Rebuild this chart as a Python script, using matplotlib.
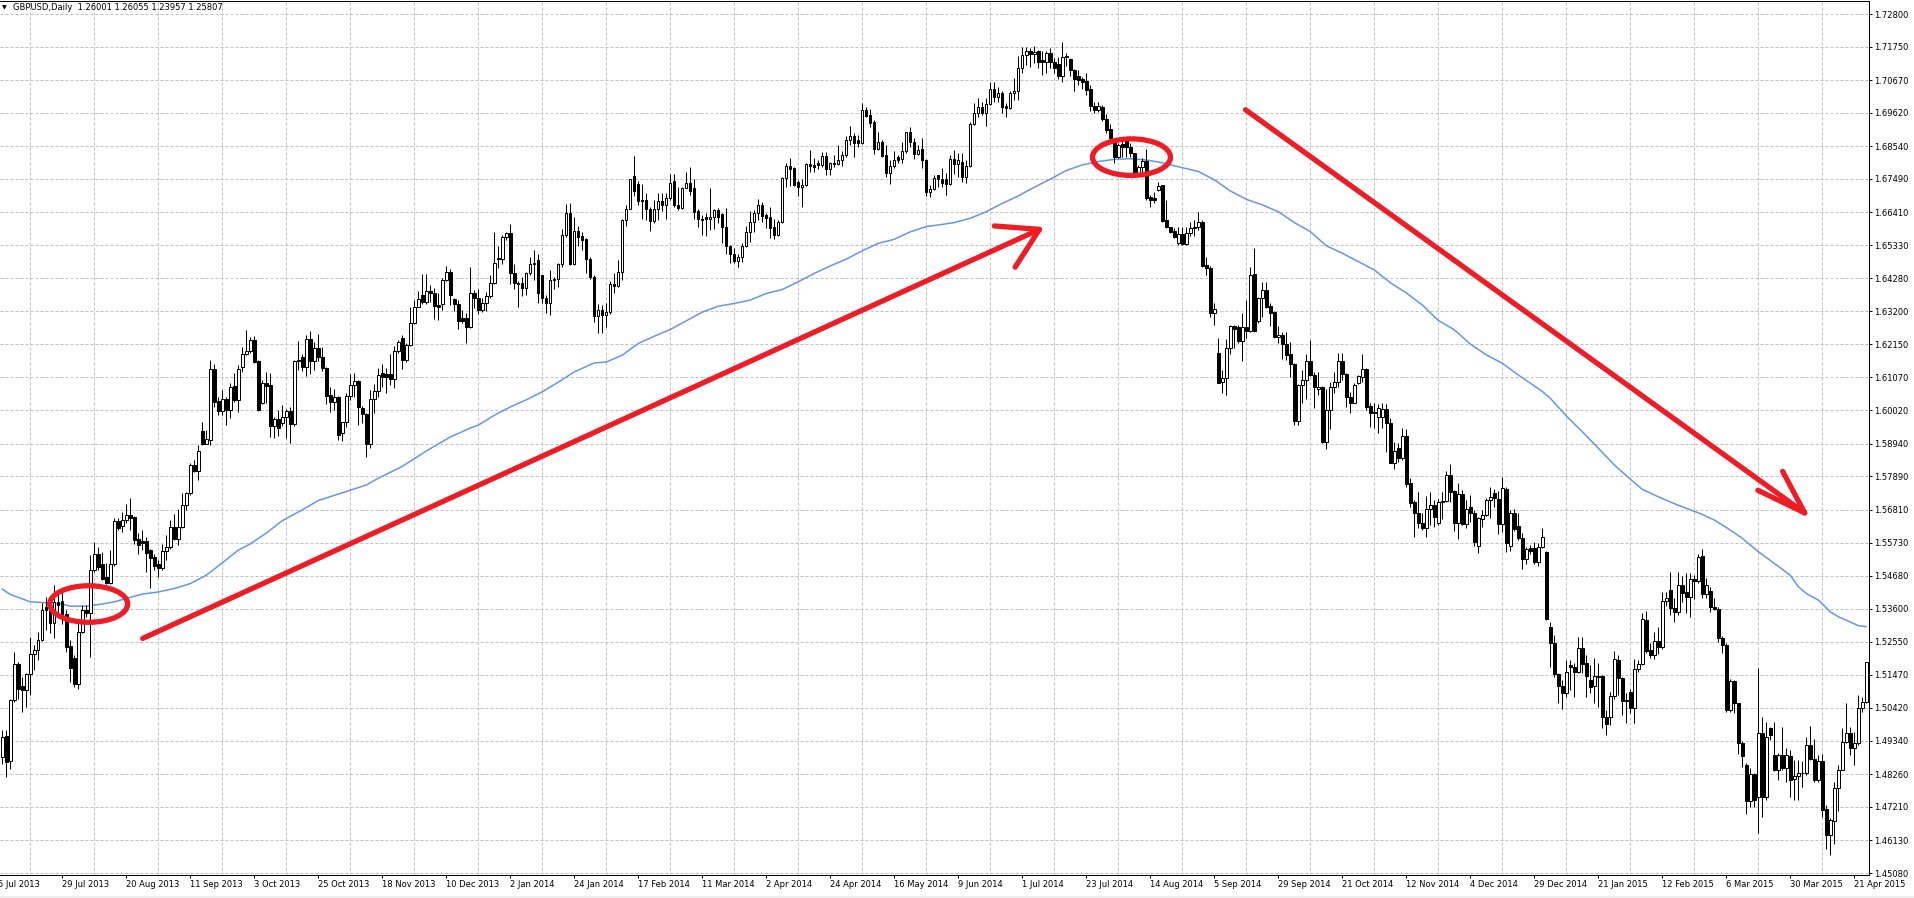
import numpy as np
import matplotlib
matplotlib.use("Agg")
import matplotlib.pyplot as plt
from matplotlib.patches import Ellipse, Rectangle

# GBPUSD daily candles, prices in pips (1.xxxx * 10000), one entry per bar
open_pips = [
    14881, 14949, 14869, 15066, 15184, 15111, 15100, 15149, 15214, 15229,
    15261, 15367, 15380, 15315, 15383, 15386, 15343, 15240, 15203, 15119,
    15286, 15356, 15348, 15487, 15536, 15505, 15463, 15444, 15504, 15643,
    15629, 15647, 15663, 15657, 15585, 15580, 15580, 15550, 15528, 15504,
    15491, 15547, 15561, 15623, 15587, 15625, 15695, 15733, 15824, 15806,
    15934, 15894, 15905, 16134, 16031, 16000, 16039, 16002, 16079, 16034,
    16142, 16183, 16193, 16228, 16160, 16024, 16090, 16083, 15952, 15973,
    15960, 15979, 16000, 15956, 16160, 16174, 16142, 16230, 16161, 16201,
    16174, 16137, 16050, 16027, 16043, 15927, 15962, 16047, 16082, 16096,
    16008, 15990, 15894, 16039, 16063, 16120, 16118, 16118, 16101, 16193,
    16236, 16163, 16212, 16284, 16336, 16373, 16350, 16386, 16379, 16340,
    16345, 16422, 16449, 16359, 16344, 16298, 16300, 16271, 16380, 16362,
    16326, 16346, 16369, 16412, 16493, 16488, 16561, 16572, 16443, 16413,
    16413, 16397, 16443, 16472, 16486, 16437, 16365, 16348, 16421, 16426,
    16472, 16566, 16638, 16473, 16579, 16563, 16553, 16491, 16432, 16306,
    16324, 16308, 16317, 16408, 16403, 16446, 16615, 16652, 16757, 16730,
    16679, 16679, 16652, 16613, 16652, 16677, 16663, 16685, 16741, 16663,
    16655, 16720, 16736, 16720, 16644, 16620, 16626, 16617, 16626, 16647,
    16633, 16594, 16532, 16505, 16484, 16495, 16531, 16575, 16608, 16639,
    16663, 16631, 16626, 16594, 16567, 16608, 16750, 16789, 16784, 16739,
    16723, 16728, 16796, 16792, 16798, 16793, 16822, 16779, 16800, 16796,
    16809, 16825, 16873, 16886, 16873, 16865, 16970, 16954, 16930, 16844,
    16868, 16825, 16766, 16789, 16820, 16811, 16838, 16898, 16868, 16827,
    16843, 16809, 16706, 16715, 16760, 16746, 16746, 16732, 16811, 16796,
    16804, 16753, 16790, 16925, 16962, 16979, 16960, 16989, 17037, 17011,
    17024, 16983, 16976, 17024, 17032, 17105, 17148, 17161, 17150, 17161,
    17130, 17126, 17153, 17126, 17119, 17080, 17140, 17134, 17100, 17080,
    17069, 17064, 17037, 16983, 16970, 16979, 16941, 16908, 16863, 16820,
    16861, 16872, 16850, 16831, 16768, 16785, 16807, 16688, 16685, 16712,
    16727, 16615, 16594, 16580, 16540, 16569, 16538, 16572, 16589, 16594,
    16608, 16470, 16460, 16316, 16185, 16093, 16104, 16201, 16273, 16271,
    16225, 16269, 16258, 16440, 16290, 16363, 16390, 16338, 16319, 16239,
    16244, 16214, 16183, 16150, 15968, 16083, 16099, 16161, 16115, 16069,
    16077, 15900, 16002, 16075, 16091, 16160, 16117, 16045, 16026, 16090,
    16110, 16134, 16015, 15996, 15979, 15979, 16004, 15959, 15832, 15880,
    15846, 15918, 15768, 15706, 15669, 15636, 15620, 15682, 15695, 15636,
    15706, 15709, 15792, 15740, 15639, 15731, 15634, 15688, 15671, 15562,
    15650, 15662, 15712, 15733, 15714, 15634, 15746, 15563, 15669, 15628,
    15588, 15520, 15558, 15558, 15510, 15559, 15545, 15301, 15249, 15149,
    15111, 15090, 15179, 15172, 15158, 15233, 15185, 15131, 15111, 15144,
    15144, 15013, 15012, 15079, 15195, 15136, 15066, 15093, 15039, 15165,
    15182, 15326, 15228, 15211, 15258, 15236, 15386, 15421, 15362, 15351,
    15437, 15415, 15400, 15456, 15450, 15531, 15408, 15418, 15365, 15359,
    15265, 15244, 15034, 15129, 15055, 14929, 14856, 14741, 14827, 14754,
    14959, 14754, 14975, 14889, 14842, 14889, 14846, 14885, 14810, 14821,
    14830, 14832, 14921, 14875, 14808, 14869, 14713, 14630, 14677, 14781,
    14842, 14932, 14961, 14910, 14926, 15042, 15059,
]
high_pips = [
    14969, 14969, 15071, 15222, 15189, 15141, 15152, 15270, 15243, 15286,
    15378, 15399, 15399, 15437, 15415, 15415, 15356, 15259, 15211, 15324,
    15372, 15372, 15534, 15575, 15561, 15544, 15507, 15550, 15652, 15654,
    15674, 15700, 15717, 15660, 15604, 15614, 15593, 15555, 15537, 15518,
    15571, 15598, 15647, 15668, 15682, 15733, 15738, 15830, 15840, 15889,
    15962, 15937, 16163, 16149, 16045, 16066, 16045, 16088, 16120, 16147,
    16207, 16260, 16239, 16241, 16165, 16099, 16126, 16123, 15981, 16002,
    16018, 16004, 16013, 16165, 16225, 16182, 16244, 16257, 16223, 16246,
    16207, 16142, 16077, 16069, 16047, 15964, 16058, 16118, 16123, 16099,
    16016, 15991, 16067, 16085, 16137, 16151, 16137, 16183, 16209, 16228,
    16244, 16219, 16333, 16357, 16387, 16441, 16441, 16406, 16395, 16381,
    16427, 16467, 16456, 16363, 16357, 16325, 16314, 16465, 16389, 16394,
    16362, 16383, 16437, 16575, 16531, 16566, 16577, 16601, 16473, 16419,
    16432, 16448, 16496, 16518, 16507, 16439, 16373, 16453, 16432, 16475,
    16585, 16666, 16669, 16625, 16595, 16577, 16556, 16496, 16439, 16343,
    16341, 16346, 16419, 16443, 16486, 16618, 16663, 16749, 16821, 16740,
    16733, 16701, 16658, 16679, 16701, 16703, 16701, 16765, 16765, 16722,
    16722, 16771, 16787, 16749, 16652, 16631, 16637, 16717, 16650, 16653,
    16639, 16653, 16535, 16524, 16507, 16540, 16596, 16644, 16647, 16682,
    16674, 16639, 16658, 16620, 16615, 16755, 16798, 16816, 16787, 16744,
    16746, 16798, 16841, 16814, 16809, 16836, 16836, 16803, 16825, 16857,
    16838, 16886, 16919, 16895, 16890, 16994, 16981, 16972, 16938, 16900,
    16873, 16857, 16809, 16838, 16825, 16868, 16900, 16916, 16879, 16857,
    16879, 16811, 16728, 16762, 16762, 16782, 16766, 16825, 16841, 16831,
    16831, 16809, 16933, 16992, 17008, 16997, 17008, 17062, 17062, 17046,
    17032, 16992, 17032, 17073, 17145, 17175, 17172, 17170, 17177, 17164,
    17159, 17159, 17170, 17137, 17140, 17189, 17153, 17137, 17102, 17100,
    17078, 17089, 17051, 16997, 16997, 16987, 16956, 16925, 16879, 16865,
    16884, 16884, 16863, 16833, 16793, 16814, 16843, 16696, 16704, 16739,
    16728, 16680, 16594, 16588, 16594, 16594, 16594, 16610, 16615, 16642,
    16615, 16495, 16467, 16346, 16233, 16131, 16230, 16276, 16278, 16275,
    16314, 16357, 16465, 16524, 16368, 16414, 16414, 16346, 16320, 16273,
    16255, 16255, 16223, 16153, 16086, 16131, 16183, 16228, 16126, 16126,
    16080, 16069, 16094, 16126, 16185, 16185, 16120, 16061, 16088, 16115,
    16183, 16137, 16026, 16024, 16021, 16024, 16021, 15975, 15900, 15895,
    15943, 15940, 15782, 15712, 15739, 15669, 15723, 15739, 15712, 15714,
    15739, 15806, 15828, 15744, 15766, 15744, 15712, 15728, 15680, 15656,
    15680, 15717, 15755, 15746, 15742, 15787, 15755, 15680, 15682, 15669,
    15604, 15561, 15567, 15577, 15574, 15620, 15547, 15319, 15276, 15154,
    15131, 15195, 15195, 15185, 15271, 15271, 15211, 15179, 15201, 15185,
    15147, 15034, 15093, 15225, 15211, 15139, 15088, 15101, 15197, 15195,
    15346, 15354, 15249, 15287, 15301, 15416, 15416, 15480, 15394, 15478,
    15466, 15475, 15475, 15470, 15539, 15552, 15459, 15432, 15397, 15365,
    15273, 15249, 15133, 15131, 15058, 14935, 14862, 14846, 14830, 15168,
    15010, 14996, 14980, 14996, 14894, 14980, 14910, 14905, 14872, 14872,
    14870, 14948, 14982, 14942, 14889, 14891, 14727, 14684, 14803, 14856,
    14975, 15055, 14980, 14964, 15082, 15077, 15190,
]
low_pips = [
    14861, 14818, 14845, 15060, 15071, 15028, 15044, 15082, 15162, 15195,
    15258, 15292, 15281, 15265, 15335, 15313, 15222, 15125, 15109, 15103,
    15281, 15335, 15206, 15480, 15485, 15455, 15442, 15440, 15500, 15614,
    15609, 15636, 15614, 15571, 15537, 15550, 15480, 15428, 15485, 15464,
    15485, 15518, 15555, 15582, 15566, 15620, 15681, 15728, 15803, 15776,
    15890, 15891, 15889, 16012, 15986, 15986, 15953, 15975, 16029, 15996,
    16126, 16180, 16185, 16153, 16000, 16021, 16026, 15916, 15913, 15918,
    15950, 15911, 15895, 15950, 16131, 16129, 16112, 16118, 16131, 16161,
    16129, 16021, 15997, 16002, 15905, 15903, 15948, 16034, 16045, 15954,
    15959, 15851, 15878, 15991, 16045, 16077, 16058, 16083, 16072, 16185,
    16133, 16158, 16208, 16280, 16334, 16344, 16344, 16352, 16295, 16293,
    16325, 16418, 16341, 16320, 16262, 16282, 16217, 16268, 16330, 16313,
    16319, 16322, 16365, 16410, 16459, 16473, 16552, 16408, 16391, 16335,
    16369, 16373, 16437, 16421, 16346, 16346, 16316, 16308, 16394, 16400,
    16462, 16561, 16470, 16470, 16531, 16518, 16443, 16426, 16287, 16251,
    16251, 16270, 16313, 16380, 16400, 16421, 16595, 16650, 16692, 16663,
    16620, 16615, 16580, 16605, 16615, 16645, 16618, 16679, 16658, 16647,
    16652, 16717, 16695, 16620, 16593, 16566, 16563, 16583, 16585, 16606,
    16540, 16505, 16477, 16475, 16464, 16481, 16528, 16545, 16577, 16615,
    16610, 16588, 16556, 16553, 16563, 16605, 16723, 16725, 16725, 16693,
    16658, 16725, 16771, 16771, 16779, 16787, 16760, 16760, 16787, 16793,
    16789, 16817, 16857, 16820, 16852, 16862, 16949, 16916, 16828, 16840,
    16817, 16753, 16731, 16782, 16798, 16800, 16830, 16852, 16811, 16825,
    16782, 16693, 16690, 16712, 16723, 16723, 16696, 16728, 16764, 16755,
    16739, 16736, 16787, 16922, 16949, 16954, 16917, 16986, 16997, 16997,
    16962, 16949, 16973, 17003, 17003, 17091, 17116, 17110, 17121, 17105,
    17083, 17089, 17105, 17089, 17069, 17059, 17112, 17080, 17033, 17051,
    17037, 17019, 16968, 16960, 16965, 16936, 16895, 16868, 16800, 16814,
    16820, 16820, 16820, 16757, 16766, 16761, 16680, 16658, 16671, 16710,
    16610, 16588, 16572, 16556, 16535, 16535, 16535, 16564, 16562, 16583,
    16465, 16438, 16303, 16276, 16088, 16056, 16051, 16183, 16201, 16217,
    16161, 16233, 16255, 16255, 16282, 16303, 16330, 16273, 16236, 16217,
    16166, 16164, 16110, 15954, 15954, 16026, 16037, 16112, 16007, 16051,
    15897, 15875, 15940, 16056, 16077, 16099, 16011, 15994, 16024, 16086,
    16094, 16002, 15948, 15943, 15927, 15943, 15868, 15830, 15811, 15835,
    15841, 15755, 15690, 15593, 15620, 15615, 15591, 15631, 15626, 15631,
    15649, 15705, 15706, 15613, 15585, 15631, 15620, 15642, 15563, 15542,
    15626, 15659, 15653, 15690, 15602, 15610, 15545, 15548, 15613, 15583,
    15488, 15505, 15537, 15505, 15499, 15556, 15325, 15174, 15142, 15055,
    15036, 15077, 15099, 15077, 15155, 15152, 15075, 15088, 15058, 15045,
    14975, 14953, 14986, 15068, 15082, 15018, 14991, 15023, 14991, 15158,
    15180, 15217, 15201, 15197, 15215, 15230, 15370, 15340, 15319, 15340,
    15383, 15346, 15333, 15391, 15445, 15394, 15394, 15351, 15356, 15254,
    15217, 15029, 15029, 15023, 14892, 14851, 14700, 14720, 14722, 14636,
    14690, 14743, 14937, 14838, 14808, 14840, 14803, 14754, 14743, 14743,
    14786, 14824, 14872, 14803, 14803, 14690, 14587, 14566, 14603, 14709,
    14840, 14926, 14889, 14856, 14922, 15028, 15055,
]
close_pips = [
    14947, 14867, 15066, 15184, 15103, 15100, 15149, 15214, 15229, 15261,
    15358, 15356, 15315, 15383, 15372, 15340, 15238, 15170, 15119, 15286,
    15356, 15348, 15487, 15536, 15496, 15458, 15444, 15504, 15643, 15622,
    15647, 15663, 15654, 15582, 15568, 15574, 15541, 15525, 15499, 15491,
    15547, 15561, 15623, 15587, 15625, 15695, 15733, 15824, 15806, 15870,
    15894, 15907, 16134, 16029, 16000, 16039, 16002, 16077, 16034, 16136,
    16183, 16193, 16228, 16158, 16002, 16090, 16080, 15950, 15973, 15945,
    15981, 16000, 15956, 16160, 16163, 16142, 16230, 16161, 16201, 16174,
    16139, 16048, 16027, 16043, 15920, 15962, 16047, 16082, 16096, 16013,
    15988, 15894, 16039, 16063, 16115, 16108, 16108, 16101, 16193, 16223,
    16163, 16212, 16284, 16336, 16360, 16350, 16386, 16379, 16338, 16335,
    16422, 16449, 16373, 16344, 16290, 16290, 16271, 16381, 16362, 16326,
    16346, 16369, 16412, 16478, 16488, 16561, 16574, 16443, 16412, 16408,
    16397, 16443, 16472, 16478, 16380, 16365, 16348, 16421, 16426, 16472,
    16566, 16638, 16473, 16579, 16561, 16550, 16491, 16432, 16306, 16324,
    16308, 16317, 16408, 16403, 16446, 16615, 16652, 16746, 16709, 16677,
    16677, 16652, 16613, 16652, 16676, 16663, 16685, 16736, 16663, 16655,
    16720, 16736, 16709, 16642, 16617, 16615, 16617, 16626, 16647, 16624,
    16594, 16532, 16505, 16484, 16495, 16531, 16575, 16608, 16639, 16663,
    16629, 16623, 16591, 16567, 16608, 16750, 16789, 16779, 16728, 16723,
    16728, 16796, 16789, 16787, 16793, 16822, 16779, 16798, 16796, 16809,
    16825, 16873, 16886, 16865, 16865, 16970, 16952, 16929, 16844, 16868,
    16822, 16766, 16789, 16809, 16809, 16838, 16898, 16868, 16827, 16841,
    16809, 16706, 16715, 16750, 16746, 16734, 16732, 16811, 16796, 16809,
    16753, 16790, 16925, 16962, 16979, 16960, 16989, 17037, 17011, 17024,
    16981, 16976, 17024, 17032, 17105, 17148, 17161, 17150, 17158, 17126,
    17126, 17153, 17126, 17107, 17080, 17140, 17145, 17100, 17069, 17067,
    17059, 17035, 16983, 16970, 16983, 16940, 16906, 16879, 16820, 16857,
    16850, 16850, 16831, 16768, 16785, 16807, 16685, 16680, 16680, 16725,
    16613, 16592, 16578, 16559, 16569, 16538, 16572, 16589, 16594, 16608,
    16467, 16460, 16316, 16327, 16090, 16104, 16201, 16273, 16263, 16225,
    16269, 16258, 16438, 16258, 16363, 16390, 16336, 16316, 16239, 16244,
    16214, 16180, 16150, 15968, 16083, 16099, 16161, 16115, 16075, 16075,
    15900, 16002, 16075, 16091, 16160, 16117, 16043, 16026, 16082, 16112,
    16134, 16013, 15994, 15994, 16007, 16004, 15959, 15832, 15870, 15846,
    15918, 15763, 15703, 15669, 15636, 15620, 15682, 15695, 15656, 15706,
    15709, 15792, 15737, 15639, 15731, 15634, 15682, 15671, 15577, 15653,
    15662, 15712, 15720, 15717, 15634, 15750, 15572, 15669, 15617, 15588,
    15520, 15553, 15548, 15513, 15559, 15591, 15327, 15249, 15149, 15111,
    15090, 15158, 15172, 15158, 15233, 15182, 15144, 15109, 15144, 15142,
    15010, 14989, 15079, 15197, 15136, 15064, 15064, 15039, 15165, 15182,
    15327, 15224, 15211, 15258, 15236, 15386, 15394, 15362, 15351, 15437,
    15412, 15400, 15456, 15450, 15527, 15408, 15437, 15365, 15359, 15265,
    15244, 15034, 15129, 15055, 14929, 14885, 14741, 14827, 14743, 14959,
    14754, 14948, 14953, 14842, 14889, 14846, 14889, 14808, 14821, 14830,
    14832, 14921, 14875, 14808, 14869, 14711, 14630, 14679, 14781, 14842,
    14932, 14961, 14910, 14926, 15042, 15059, 15188,
]

# moving average (blue line) read at bar positions
ma_bar = [0, 2, 7, 11, 15, 17, 21, 25, 28, 31, 35, 39, 43, 47, 51, 55, 59, 62, 66, 70,
          75, 79, 85, 91, 94, 100, 106, 112, 117, 119, 123, 127, 131, 135, 139, 143, 148, 151, 155, 159,
          163, 167, 171, 175, 179, 183, 187, 191, 195, 199, 203, 207, 211, 215, 219, 223, 227, 231, 235, 238,
          242, 246, 250, 254, 258, 262, 266, 270, 274, 278, 282, 286, 290, 293, 295, 299, 303, 307, 311, 315,
          319, 323, 327, 331, 335, 339, 343, 347, 351, 355, 359, 363, 367, 371, 375, 379, 383, 385, 387, 391,
          395, 399, 403, 407, 410, 414, 418, 422, 425, 428, 431, 435, 439, 443, 447, 449, 451, 454, 457, 459,
          461, 464, 466]
ma_pips = [15424, 15407, 15383, 15380, 15376, 15369, 15369, 15376, 15383, 15394, 15408, 15415, 15426, 15442, 15469, 15509, 15550, 15570, 15605, 15645,
           15680, 15710, 15735, 15760, 15782, 15820, 15870, 15915, 15944, 15953, 15985, 16012, 16035, 16061, 16092, 16125, 16154, 16157, 16179, 16217,
           16240, 16262, 16290, 16318, 16337, 16346, 16357, 16378, 16391, 16416, 16443, 16467, 16489, 16516, 16540, 16553, 16577, 16594, 16601, 16607,
           16621, 16642, 16669, 16693, 16721, 16747, 16775, 16793, 16804, 16811, 16813, 16809, 16800, 16790, 16784, 16772, 16745, 16709, 16682, 16664,
           16642, 16607, 16578, 16532, 16508, 16481, 16454, 16413, 16380, 16341, 16291, 16261, 16215, 16180, 16153, 16115, 16080, 16062, 16040, 15983,
           15932, 15879, 15825, 15779, 15746, 15722, 15700, 15680, 15665, 15647, 15623, 15588, 15545, 15507, 15469, 15432, 15410, 15389, 15351, 15335,
           15324, 15306, 15303]

# price scale labels (right) and date labels (bottom, one every 16 bars starting at bar -1)
price_levels = [1.72800, 1.71750, 1.70670, 1.69620, 1.68540, 1.67490, 1.66410, 1.65330, 1.64280,
                1.63200, 1.62150, 1.61070, 1.60020, 1.58940, 1.57890, 1.56810, 1.55730, 1.54680,
                1.53600, 1.52550, 1.51470, 1.50420, 1.49340, 1.48260, 1.47210, 1.46130, 1.45080]
date_labels = ["5 Jul 2013", "29 Jul 2013", "20 Aug 2013", "11 Sep 2013", "3 Oct 2013", "25 Oct 2013",
               "18 Nov 2013", "10 Dec 2013", "2 Jan 2014", "24 Jan 2014", "17 Feb 2014", "11 Mar 2014",
               "2 Apr 2014", "24 Apr 2014", "16 May 2014", "9 Jun 2014", "1 Jul 2014", "23 Jul 2014",
               "14 Aug 2014", "5 Sep 2014", "29 Sep 2014", "21 Oct 2014", "12 Nov 2014", "4 Dec 2014",
               "29 Dec 2014", "21 Jan 2015", "12 Feb 2015", "6 Mar 2015", "30 Mar 2015", "21 Apr 2015"]

# hand drawn red marks (bar index, price)
circle_centers = [(21.6, 1.5376), (282.3, 1.6818)]
up_arrow_x = [35.1, 259.3]
up_arrow_y = [1.5265, 1.6585]
up_head_x = [248.0, 259.3, 253.2]
up_head_y = [1.6596, 1.6585, 1.6463]
down_arrow_x = [310.8, 450.6]
down_arrow_y = [1.6971, 1.5670]
down_head_x = [445.1, 450.6, 438.9]
down_head_y = [1.5804, 1.5670, 1.5743]

o = np.array(open_pips) / 10000
h = np.array(high_pips) / 10000
l = np.array(low_pips) / 10000
c = np.array(close_pips) / 10000
bars = np.arange(len(c))

W, H = 1914, 898
plt.rcParams['font.family'] = ['DejaVu Sans']
fig = plt.figure(figsize=(W / 100, H / 100), dpi=100)
ax = fig.add_axes([0, 23.5 / H, 1868.5 / W, 874 / H])
ax.set_xlim(-0.575, 466.55)
ax.set_ylim(1.450317, 1.732357)

px = 0.72  # one pixel in points

# candles
ax.vlines(bars, l, h, colors='black', linewidth=px, zorder=3)
up = c >= o
bottom = np.minimum(o, c)
height = np.abs(c - o)
ax.bar(bars[up], height[up], bottom=bottom[up], width=0.6, color='white',
       edgecolor='black', linewidth=px, zorder=4)
ax.bar(bars[~up], height[~up], bottom=bottom[~up], width=0.6, color='black',
       edgecolor='black', linewidth=px, zorder=4)

# moving average
ax.plot(ma_bar, np.array(ma_pips) / 10000, color='#6495ED', linewidth=1.1, zorder=2)

# red annotations
red = '#EE1C25'
for cx, cy in circle_centers:
    ax.add_patch(Ellipse((cx, cy), 19.5, 0.0118, fill=False, edgecolor=red,
                         linewidth=3.8, zorder=6))
ax.plot(up_arrow_x, up_arrow_y, color=red, lw=3.8, solid_capstyle='round', zorder=6)
ax.plot(up_head_x, up_head_y, color=red, lw=3.8, solid_capstyle='round',
        solid_joinstyle='round', zorder=6)
ax.plot(down_arrow_x, down_arrow_y, color=red, lw=3.8, solid_capstyle='round', zorder=6)
ax.plot(down_head_x, down_head_y, color=red, lw=3.8, solid_capstyle='round',
        solid_joinstyle='round', zorder=6)

# axes, ticks, grid
date_pos = [-1 + 16 * k for k in range(len(date_labels))]
ax.set_xticks(date_pos[1:])
ax.set_xticklabels(date_labels[1:], ha='left')
ax.set_xticks(np.arange(7, 467, 8), minor=True)
ax.yaxis.tick_right()
ax.set_yticks(price_levels)
ax.set_yticklabels([f"{v:.5f}" for v in price_levels])

ax.tick_params(axis='x', which='major', length=2.2, width=px, pad=1.5, labelsize=6)
ax.tick_params(axis='x', which='minor', length=0)
ax.tick_params(axis='y', length=2.2, width=px, pad=1.8, labelsize=6)

grid_kw = dict(color='#C0C0C0', linewidth=px, linestyle=(0, (3, 2)))
ax.xaxis.grid(True, which='minor', **grid_kw)
ax.yaxis.grid(True, which='major', **grid_kw)
ax.set_axisbelow(True)

ax.spines['left'].set_visible(False)
for side in ['right', 'top', 'bottom']:
    ax.spines[side].set_linewidth(px)
    ax.spines[side].set_color('black')

# first date label sits left of the visible range
ax.annotate(date_labels[0], xy=(date_pos[0], 0), xycoords=('data', 'axes fraction'),
            xytext=(0, -3.7), textcoords='offset points', ha='left', va='top',
            fontsize=6, annotation_clip=False)

# chart header
fig.text(2 / W, 1 - 7.5 / H, '\u25BC', fontsize=4.5, va='center', ha='left')
fig.text(13 / W, 1 - 7.5 / H, 'GBPUSD,Daily  1.26001 1.26055 1.23957 1.25807',
         fontsize=6, va='center', ha='left')

# window frame strip at the very bottom
fig.add_artist(Rectangle((0, 0), 1, 2.5 / H, transform=fig.transFigure,
                         facecolor='#EEEEEE', edgecolor='none'))

fig.savefig('out.png', dpi=100)
